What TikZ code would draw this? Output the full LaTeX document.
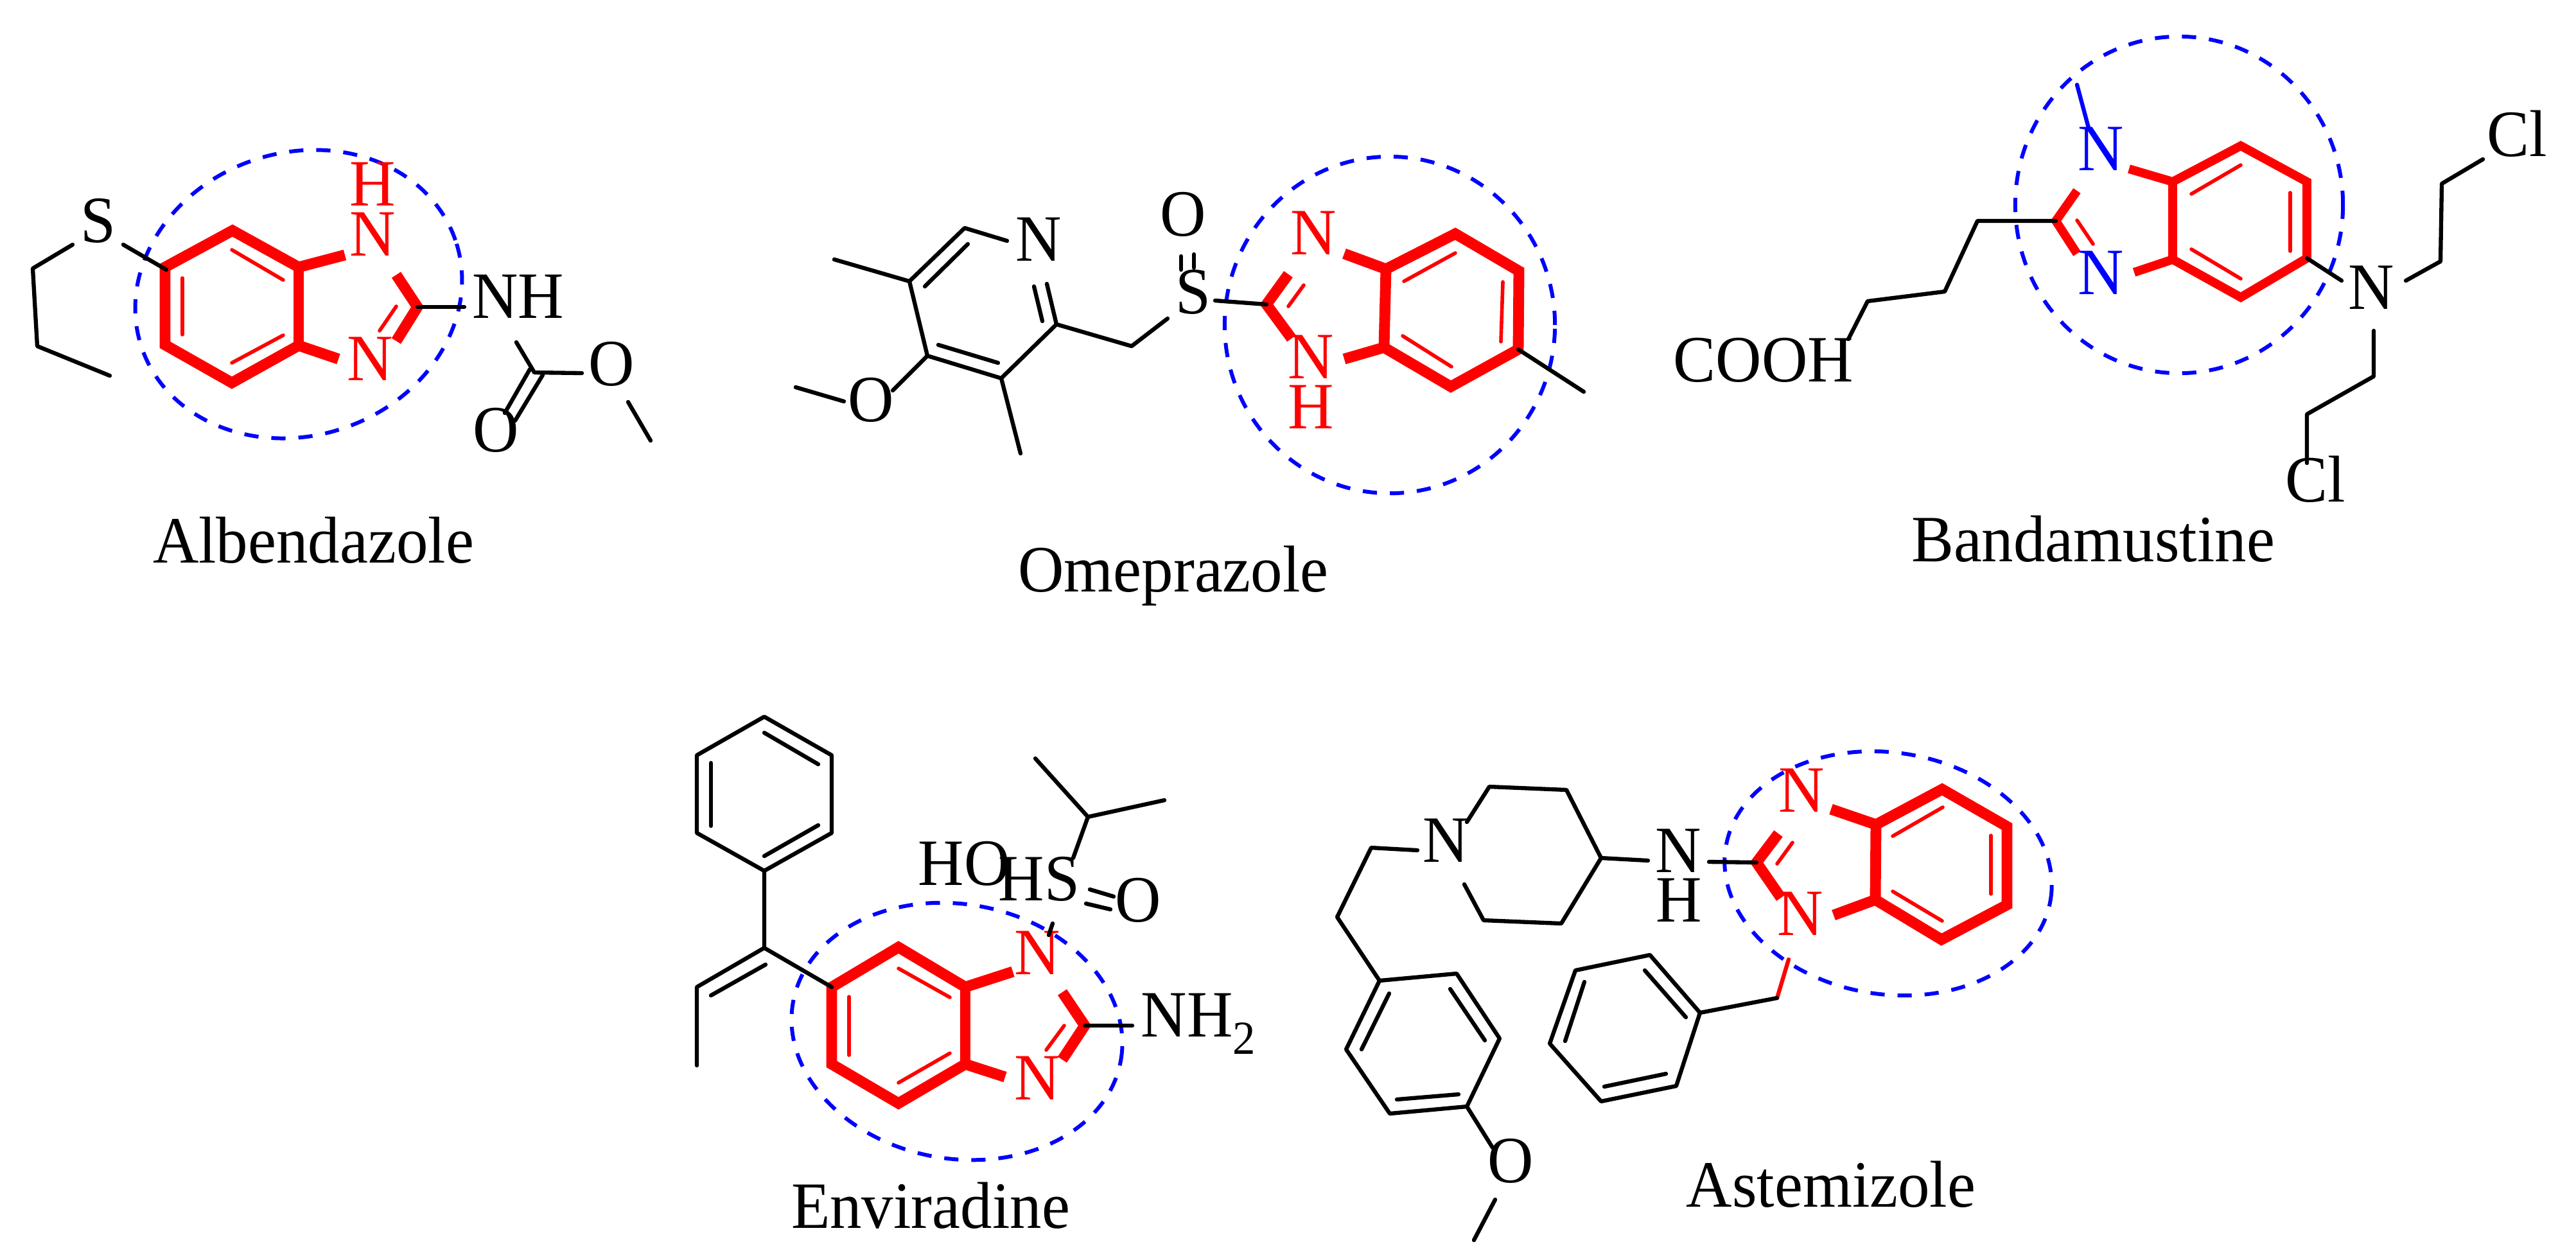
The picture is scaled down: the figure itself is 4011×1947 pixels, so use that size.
\documentclass[tikz,border=0pt]{standalone}
\usepackage{fontspec}
\setmainfont[FakeStretch=0.96]{Liberation Serif}
\usetikzlibrary{shapes.geometric}
\tikzset{
    bond/.style={line width=1.8pt,line cap=round,line join=round},
    ringbond/.style={line width=4.8pt,red},
    ringdbl/.style={line width=1.6pt,red,line cap=round},
    atom/.style={inner sep=0pt,text height=0.68cm,text depth=0pt,font=\fontsize{29.3}{32}\selectfont},
    drugname/.style={inner sep=0pt,anchor=base,font=\fontsize{29.3}{32}\selectfont},
    corering/.style={draw=blue,line width=1.7pt,dash pattern=on 6.3pt off 5.7pt,ellipse,inner sep=0pt}
}
\begin{document}
\begin{tikzpicture}[x=0.01cm,y=-0.01cm]
    \path[use as bounding box,fill=white] (0,0) rectangle (4011,1947);

    % Albendazole
    \node[corering,minimum width=5.16cm,minimum height=4.40cm,rotate=19] (ringA) at (465,458) {};
    \coordinate (A1) at (362,359); \coordinate (A2) at (465,416); \coordinate (A3) at (465,538);
    \coordinate (A4) at (361,596); \coordinate (A5) at (257,537); \coordinate (A6) at (257,416);
    \coordinate (A7) at (537,397); \coordinate (A8) at (527,559);
    \coordinate (Ac) at (650,478); \coordinate (Au) at (617,428); \coordinate (Ad) at (617,531);
    \coordinate (A11) at (617,477); \coordinate (A12) at (591,515);
    \coordinate (A13) at (284,433); \coordinate (A14) at (284,521);
    \coordinate (A15) at (361,389); \coordinate (A16) at (441,436);
    \coordinate (A17) at (361,565); \coordinate (A18) at (441,522);
    \draw[ringbond] (A7) -- (A2) -- (A1) -- (A6) -- (A5) -- (A4) -- (A3) -- (A8);
    \draw[ringbond] (A2) -- (A3);
    \draw[ringbond] (Au) -- (Ac) -- (Ad);
    \draw[ringdbl] (A11) -- (A12);
    \draw[ringdbl] (A13) -- (A14);
    \draw[ringdbl] (A15) -- (A16);
    \draw[ringdbl] (A17) -- (A18);
    \node[atom,red] (AN1) at (580,364) {N};
    \node[atom,red] (AH1) at (580,286) {H};
    \node[atom,red] (AN2) at (576,558) {N};
    \node[atom] (AS) at (153,343) {S};
    \node[atom] (ANH) at (807,461) {NH};
    \node[atom] (AO1) at (952,566) {O};
    \node[atom] (AO2) at (772,669) {O};
    \coordinate (A21) at (113,381); \coordinate (A22) at (51,418);
    \coordinate (A23) at (58,539); \coordinate (A24) at (171,585);
    \coordinate (A25) at (192,381); \coordinate (A26) at (259,420);
    \coordinate (A27) at (723,478);
    \coordinate (A28) at (832,580); \coordinate (A29) at (804,533); \coordinate (A30) at (906,581);
    \coordinate (A31) at (825,575); \coordinate (A32) at (786,643);
    \coordinate (A33) at (845,584); \coordinate (A34) at (802,655);
    \coordinate (A35) at (978,626); \coordinate (A36) at (1013,686);
    \draw[bond] (A21) -- (A22) -- (A23) -- (A24);
    \draw[bond] (A25) -- (A26);
    \draw[bond] (Ac) -- (A27);
    \draw[bond] (A29) -- (A28) -- (A30);
    \draw[bond] (A31) -- (A32);
    \draw[bond] (A33) -- (A34);
    \draw[bond] (A35) -- (A36);
    \node[drugname] (nameA) at (488,876) {Albendazole};

    % Omeprazole
    \node[corering,minimum width=5.14cm,minimum height=5.24cm] (ringO) at (2164,506) {};
    \coordinate (O1) at (2266,364); \coordinate (O2) at (2365,422); \coordinate (O3) at (2364,544);
    \coordinate (O4) at (2259,602); \coordinate (O5) at (2155,541); \coordinate (O6) at (2158,419);
    \coordinate (O7) at (2093,395); \coordinate (O8) at (2093,559);
    \coordinate (Oc) at (1972,474); \coordinate (Ou) at (2006,427); \coordinate (Od) at (2011,527);
    \coordinate (O11) at (2030,444); \coordinate (O12) at (2006,477);
    \coordinate (O13) at (2266,394); \coordinate (O14) at (2186,438);
    \coordinate (O15) at (2340,439); \coordinate (O16) at (2337,532);
    \coordinate (O17) at (2184,523); \coordinate (O18) at (2260,571);
    \draw[ringbond] (O7) -- (O6) -- (O1) -- (O2) -- (O3) -- (O4) -- (O5) -- (O8);
    \draw[ringbond] (O6) -- (O5);
    \draw[ringbond] (Ou) -- (Oc) -- (Od);
    \draw[ringdbl] (O11) -- (O12);
    \draw[ringdbl] (O13) -- (O14);
    \draw[ringdbl] (O15) -- (O16);
    \draw[ringdbl] (O17) -- (O18);
    \node[atom,red] (ON1) at (2045,362) {N};
    \node[atom,red] (ON2) at (2041,555) {N};
    \node[atom,red] (OH1) at (2041,633) {H};
    \node[atom] (OS) at (1858,454) {S};
    \node[atom] (OO1) at (1842,333) {O};
    \node[atom] (ON3) at (1617,372) {N};
    \node[atom] (OO2) at (1356,622) {O};
    \coordinate (O21) at (1839,399); \coordinate (O22) at (1839,420);
    \coordinate (O23) at (1859,396); \coordinate (O24) at (1859,417);
    \coordinate (O25) at (1892,468);
    \coordinate (O26) at (1818,496); \coordinate (O27) at (1762,539); \coordinate (O28) at (1645,505);
    \coordinate (O29) at (1559,589); \coordinate (O30) at (1444,554); \coordinate (O31) at (1416,438);
    \coordinate (O32) at (1502,355); \coordinate (O33) at (1568,375);
    \coordinate (O34) at (1630,442); \coordinate (O35) at (1610,446); \coordinate (O36) at (1623,500);
    \coordinate (O37) at (1440,446); \coordinate (O38) at (1507,380);
    \coordinate (O39) at (1461,537); \coordinate (O40) at (1554,565);
    \coordinate (O41) at (1299,404); \coordinate (O42) at (1589,706);
    \coordinate (O43) at (1390,608); \coordinate (O44) at (1314,625); \coordinate (O45) at (1239,603);
    \coordinate (O46) at (2466,610);
    \draw[bond] (O21) -- (O22);
    \draw[bond] (O23) -- (O24);
    \draw[bond] (O25) -- (Oc);
    \draw[bond] (O26) -- (O27) -- (O28) -- (O29) -- (O30) -- (O31) -- (O32) -- (O33);
    \draw[bond] (O34) -- (O28);
    \draw[bond] (O35) -- (O36);
    \draw[bond] (O37) -- (O38);
    \draw[bond] (O39) -- (O40);
    \draw[bond] (O31) -- (O41);
    \draw[bond] (O29) -- (O42);
    \draw[bond] (O30) -- (O43);
    \draw[bond] (O44) -- (O45);
    \draw[bond] (O3) -- (O46);
    \node[drugname] (nameO) at (1827,921) {Omeprazole};

    % Bandamustine
    \node[corering,minimum width=5.10cm,minimum height=5.24cm] (ringB) at (3393,319) {};
    \coordinate (B1) at (3489,227); \coordinate (B2) at (3592,283); \coordinate (B3) at (3592,402);
    \coordinate (B4) at (3489,463); \coordinate (B5) at (3383,404); \coordinate (B6) at (3383,283);
    \coordinate (B7) at (3315,263); \coordinate (B8) at (3323,424);
    \coordinate (Bc) at (3201,344); \coordinate (Bu) at (3234,297); \coordinate (Bd) at (3234,395);
    \coordinate (B11) at (3234,343); \coordinate (B12) at (3259,380);
    \coordinate (B13) at (3489,257); \coordinate (B14) at (3412,302);
    \coordinate (B15) at (3566,300); \coordinate (B16) at (3566,391);
    \coordinate (B17) at (3412,388); \coordinate (B18) at (3489,434);
    \draw[ringbond,line width=3.9pt] (B7) -- (B6) -- (B1) -- (B2) -- (B3) -- (B4) -- (B5) -- (B8);
    \draw[ringbond,line width=3.9pt] (B6) -- (B5);
    \draw[ringbond,line width=3.9pt] (Bu) -- (Bc) -- (Bd);
    \draw[ringdbl] (B11) -- (B12);
    \draw[ringdbl] (B13) -- (B14);
    \draw[ringdbl] (B15) -- (B16);
    \draw[ringdbl] (B17) -- (B18);
    \node[atom,blue] (BN1) at (3271,231) {N};
    \node[atom,blue] (BN2) at (3271,424) {N};
    \node[atom] (BN3) at (3692,447) {N};
    \node[atom] (BCOOH) at (2746,560) {COOH};
    \node[atom] (BCl1) at (3919,209) {Cl};
    \node[atom] (BCl2) at (3605,747) {Cl};
    \coordinate (B21) at (3234,132); \coordinate (B22) at (3252,199);
    \coordinate (B23) at (3079,344); \coordinate (B24) at (3028,454);
    \coordinate (B25) at (2908,469); \coordinate (B26) at (2878,528);
    \coordinate (B27) at (3646,437);
    \coordinate (B28) at (3746,437); \coordinate (B29) at (3800,407);
    \coordinate (B30) at (3802,286); \coordinate (B31) at (3866,248);
    \coordinate (B32) at (3696,515); \coordinate (B33) at (3696,586);
    \coordinate (B34) at (3592,645); \coordinate (B35) at (3592,721);
    \draw[bond,blue] (B21) -- (B22);
    \draw[bond] (Bc) -- (B23) -- (B24) -- (B25) -- (B26);
    \draw[bond] (B3) -- (B27);
    \draw[bond] (B28) -- (B29) -- (B30) -- (B31);
    \draw[bond] (B32) -- (B33) -- (B34) -- (B35);
    \node[drugname] (nameB) at (3259,874) {Bandamustine};

    % Enviradine
    \node[corering,minimum width=5.18cm,minimum height=3.96cm,rotate=-10] (ringE) at (1490,1606) {};
    \coordinate (E1) at (1399,1475); \coordinate (E2) at (1503,1537); \coordinate (E3) at (1503,1657);
    \coordinate (E4) at (1399,1718); \coordinate (E5) at (1295,1657); \coordinate (E6) at (1295,1537);
    \coordinate (E7) at (1577,1513); \coordinate (E8) at (1565,1677);
    \coordinate (Ec) at (1689,1597); \coordinate (Eu) at (1654,1545); \coordinate (Ed) at (1654,1650);
    \coordinate (E11) at (1657,1597); \coordinate (E12) at (1629,1635);
    \coordinate (E13) at (1399,1508); \coordinate (E14) at (1479,1553);
    \coordinate (E15) at (1322,1552); \coordinate (E16) at (1322,1643);
    \coordinate (E17) at (1399,1686); \coordinate (E18) at (1479,1640);
    \draw[ringbond] (E7) -- (E2) -- (E1) -- (E6) -- (E5) -- (E4) -- (E3) -- (E8);
    \draw[ringbond] (E2) -- (E3);
    \draw[ringbond] (Eu) -- (Ec) -- (Ed);
    \draw[ringdbl] (E11) -- (E12);
    \draw[ringdbl] (E13) -- (E14);
    \draw[ringdbl] (E15) -- (E16);
    \draw[ringdbl] (E17) -- (E18);
    \node[atom,red] (EN1) at (1615,1483) {N};
    \node[atom,red] (EN2) at (1615,1678) {N};
    \node[atom,anchor=west] (ENH) at (1776,1580) {NH\raisebox{-7.7pt}{\fontsize{21}{21}\selectfont 2}};
    \node[atom] (EHO) at (1501,1344) {HO};
    \node[atom] (EHS) at (1618,1368) {HS};
    \node[atom] (EO) at (1772,1401) {O};
    \coordinate (E21) at (1763,1597);
    \coordinate (E22) at (1639,1438); \coordinate (E23) at (1633,1456);
    \coordinate (E24) at (1697,1385); \coordinate (E25) at (1734,1396);
    \coordinate (E26) at (1691,1407); \coordinate (E27) at (1729,1416);
    \coordinate (E28) at (1671,1336); \coordinate (E29) at (1694,1272);
    \coordinate (E30) at (1612,1181); \coordinate (E31) at (1813,1246);
    \coordinate (P1) at (1190,1116); \coordinate (P2) at (1295,1176); \coordinate (P3) at (1295,1297);
    \coordinate (P4) at (1190,1356); \coordinate (P5) at (1085,1297); \coordinate (P6) at (1085,1176);
    \coordinate (P7) at (1190,1141); \coordinate (P8) at (1274,1190);
    \coordinate (P9) at (1107,1188); \coordinate (P10) at (1107,1286);
    \coordinate (P11) at (1190,1333); \coordinate (P12) at (1274,1285);
    \coordinate (E32) at (1190,1476); \coordinate (E33) at (1085,1537);
    \coordinate (E34) at (1192,1502); \coordinate (E35) at (1107,1550); \coordinate (E36) at (1085,1659);
    \draw[bond] (Ec) -- (E21);
    \draw[bond] (E22) -- (E23);
    \draw[bond] (E24) -- (E25);
    \draw[bond] (E26) -- (E27);
    \draw[bond] (E28) -- (E29) -- (E30);
    \draw[bond] (E29) -- (E31);
    \draw[bond] (P1) -- (P2) -- (P3) -- (P4) -- (P5) -- (P6) -- cycle;
    \draw[bond] (P7) -- (P8);
    \draw[bond] (P9) -- (P10);
    \draw[bond] (P11) -- (P12);
    \draw[bond] (P4) -- (E32) -- (E6);
    \draw[bond] (E32) -- (E33) -- (E36);
    \draw[bond] (E34) -- (E35);
    \node[drugname] (nameE) at (1449,1912) {Enviradine};

    % Astemizole
    \node[corering,minimum width=5.12cm,minimum height=3.76cm,rotate=-9] (ringT) at (2940,1360) {};
    \coordinate (T1) at (3024,1229); \coordinate (T2) at (3125,1287); \coordinate (T3) at (3125,1409);
    \coordinate (T4) at (3023,1463); \coordinate (T5) at (2920,1401); \coordinate (T6) at (2921,1284);
    \coordinate (T7) at (2851,1260); \coordinate (T8) at (2855,1425);
    \coordinate (Tc) at (2735,1343); \coordinate (Tu) at (2769,1298); \coordinate (Td) at (2773,1398);
    \coordinate (T11) at (2791,1312); \coordinate (T12) at (2767,1345);
    \coordinate (T13) at (3025,1257); \coordinate (T14) at (2947,1302);
    \coordinate (T15) at (3100,1301); \coordinate (T16) at (3100,1392);
    \coordinate (T17) at (2947,1388); \coordinate (T18) at (3024,1434);
    \draw[ringbond] (T7) -- (T6) -- (T1) -- (T2) -- (T3) -- (T4) -- (T5) -- (T8);
    \draw[ringbond] (T6) -- (T5);
    \draw[ringbond] (Tu) -- (Tc) -- (Td);
    \draw[ringdbl] (T11) -- (T12);
    \draw[ringdbl] (T13) -- (T14);
    \draw[ringdbl] (T15) -- (T16);
    \draw[ringdbl] (T17) -- (T18);
    \node[atom,red] (TN1) at (2805,1230) {N};
    \node[atom,red] (TN2) at (2803,1422) {N};
    \node[atom] (TN3) at (2613,1324) {N};
    \node[atom] (TH) at (2614,1401) {H};
    \node[atom] (TN4) at (2251,1308) {N};
    \node[atom] (TO) at (2352,1807) {O};
    \coordinate (T21) at (2661,1342);
    \coordinate (T22) at (2566,1340); \coordinate (T23) at (2493,1336); \coordinate (T24) at (2439,1230);
    \coordinate (T25) at (2319,1225); \coordinate (T26) at (2284,1280);
    \coordinate (T27) at (2431,1438); \coordinate (T28) at (2310,1433); \coordinate (T29) at (2280,1377);
    \coordinate (T30) at (2207,1324); \coordinate (T31) at (2135,1320); \coordinate (T32) at (2082,1428);
    \coordinate (Q1) at (2148,1527); \coordinate (Q2) at (2268,1516); \coordinate (Q3) at (2335,1617);
    \coordinate (Q4) at (2284,1723); \coordinate (Q5) at (2164,1734); \coordinate (Q6) at (2096,1634);
    \coordinate (Q7) at (2258,1540); \coordinate (Q8) at (2312,1620);
    \coordinate (Q9) at (2271,1704); \coordinate (Q10) at (2175,1712);
    \coordinate (Q11) at (2120,1634); \coordinate (Q12) at (2163,1547);
    \coordinate (T33) at (2324,1787); \coordinate (T34) at (2328,1868); \coordinate (T35) at (2295,1931);
    \coordinate (T36) at (2785,1494); \coordinate (T37) at (2767,1554);
    \coordinate (R1) at (2647,1577); \coordinate (R2) at (2569,1487); \coordinate (R3) at (2453,1511);
    \coordinate (R4) at (2413,1625); \coordinate (R5) at (2493,1715); \coordinate (R6) at (2610,1691);
    \coordinate (R7) at (2561,1511); \coordinate (R8) at (2625,1584);
    \coordinate (R9) at (2467,1529); \coordinate (R10) at (2437,1621);
    \coordinate (R11) at (2498,1692); \coordinate (R12) at (2594,1672);
    \draw[bond] (T21) -- (Tc);
    \draw[bond] (T22) -- (T23) -- (T24) -- (T25) -- (T26);
    \draw[bond] (T23) -- (T27) -- (T28) -- (T29);
    \draw[bond] (T30) -- (T31) -- (T32) -- (Q1);
    \draw[bond] (Q1) -- (Q2) -- (Q3) -- (Q4) -- (Q5) -- (Q6) -- cycle;
    \draw[bond] (Q7) -- (Q8);
    \draw[bond] (Q9) -- (Q10);
    \draw[bond] (Q11) -- (Q12);
    \draw[bond] (Q4) -- (T33);
    \draw[bond] (T34) -- (T35);
    \draw[bond,red] (T36) -- (T37);
    \draw[bond] (T37) -- (R1);
    \draw[bond] (R1) -- (R2) -- (R3) -- (R4) -- (R5) -- (R6) -- cycle;
    \draw[bond] (R7) -- (R8);
    \draw[bond] (R9) -- (R10);
    \draw[bond] (R11) -- (R12);
    \node[drugname] (nameT) at (2851,1879) {Astemizole};
\end{tikzpicture}
\end{document}
